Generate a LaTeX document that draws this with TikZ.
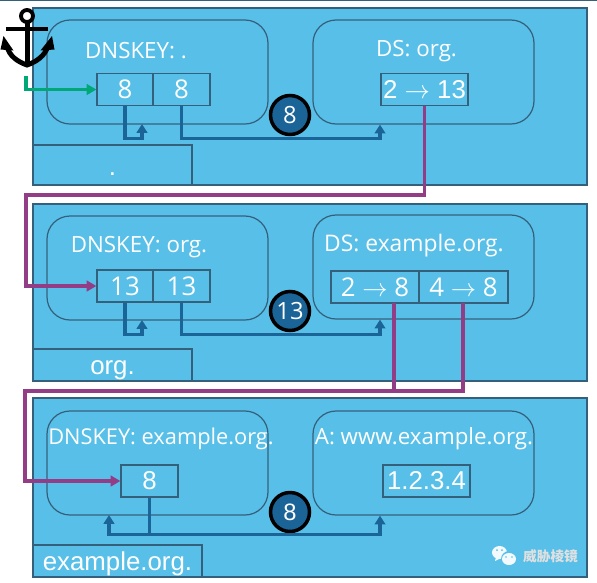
\documentclass[tikz,border=0pt]{standalone}
\usepackage{fontspec}
\setmainfont{Open Sans}
\newfontfamily\arialfont{Liberation Sans}
\newfontfamily\cjkfont{Noto Sans CJK SC}
\definecolor{bandblue}{HTML}{58C0E8}
\definecolor{edgeblue}{HTML}{35607C}
\definecolor{linkblue}{HTML}{1B6497}
\definecolor{chainpurple}{HTML}{933D87}
\definecolor{anchorgreen}{HTML}{00A878}
\usetikzlibrary{arrows.meta}
\tikzset{
    zonebox/.style={draw=edgeblue, fill=bandblue, line width=0.7pt, inner sep=0pt},
    rrset/.style={zonebox, rounded corners=0.46cm, minimum width=4.42cm, minimum height=2.08cm},
    keycell/.style={zonebox, minimum height=0.64cm, text=white, font=\fontsize{14.7}{16}\selectfont},
    title/.style={text=white, inner sep=0pt, font=\fontsize{12.7}{14}\selectfont},
    zonename/.style={text=white, inner sep=0pt, anchor=base, font=\arialfont\fontsize{14.7}{16}\selectfont},
    algo/.style={circle, draw=black, fill=linkblue, line width=2pt, minimum size=0.78cm, inner sep=0pt, text=white, font=\fontsize{13.5}{15}\selectfont},
    signlink/.style={-{Triangle[length=5pt,width=6pt]}, line width=2pt, draw=linkblue},
    dslink/.style={-{Triangle[length=5.5pt,width=6pt]}, line width=1.9pt, draw=chainpurple},
}
\begin{document}
\begin{tikzpicture}[x=0.02cm, y=-0.02cm, >=stealth]
    \useasboundingbox (0,0) rectangle (597,582);
    \fill[white] (0,0) rectangle (597,582);
    \draw[edgeblue, line width=0.8pt] (0,0) -- (597,0);

    % root zone
    \node[zonebox, minimum width=11.08cm, minimum height=3.54cm] (bandroot) at (310,96.5) {};
    \node[rrset] (rootkey) at (157.5,72) {};
    \node[rrset] (rootds) at (423.5,72) {};
    \node[title] (rootkeytitle) at (136,51) {DNSKEY: .};
    \node[title] (rootdstitle) at (416.5,51) {DS: org.};
    \node[keycell, minimum width=1.12cm] (rootksk) at (125,89.5) {8};
    \node[keycell, minimum width=1.14cm] (rootzsk) at (181.5,89.5) {8};
    \node[keycell, minimum width=1.74cm, font=\arialfont\fontsize{14.7}{16}\selectfont] (rootdigest) at (424.5,89.5) {2 $\rightarrow$ 13};
    \node[zonebox, minimum width=3.18cm, minimum height=0.8cm] (rootname) at (112.5,165) {};
    \node[zonename] (rootnametext) at (112.5,175) {.};
    \node[algo] (rootalgo) at (290,115) {8};

    % org zone
    \node[zonebox, minimum width=11.08cm, minimum height=3.54cm] (bandorg) at (310,292.5) {};
    \node[rrset] (orgkey) at (157.5,268) {};
    \node[rrset] (orgds) at (423.5,267) {};
    \node[title] (orgkeytitle) at (139,247) {DNSKEY: org.};
    \node[title, font=\fontsize{13}{14}\selectfont] (orgdstitle) at (414,246) {DS: example.org.};
    \node[keycell, minimum width=1.12cm] (orgksk) at (125,286) {13};
    \node[keycell, minimum width=1.14cm] (orgzsk) at (181.5,286) {13};
    \node[keycell, minimum width=1.76cm] (orgdigesta) at (375,287) {2 $\rightarrow$ 8};
    \node[keycell, minimum width=1.78cm] (orgdigestb) at (463.5,287) {4 $\rightarrow$ 8};
    \node[zonebox, minimum width=3.18cm, minimum height=0.64cm] (orgname) at (112.5,365) {};
    \node[zonename] (orgnametext) at (112.5,374) {org.};
    \node[algo] (orgalgo) at (290,311) {13};

    % example.org zone
    \node[zonebox, minimum width=11.08cm, minimum height=3.58cm] (bandexample) at (310,487.5) {};
    \node[rrset] (examplekey) at (157.5,463) {};
    \node[rrset] (examplea) at (423.5,463) {};
    \node[title, font=\fontsize{12.4}{14}\selectfont] (examplekeytitle) at (161,439) {DNSKEY: example.org.};
    \node[title] (exampleatitle) at (424,439) {A: www.example.org.};
    \node[keycell, minimum width=1.14cm, font=\arialfont\fontsize{14.7}{16}\selectfont] (examplecsk) at (149.5,481) {8};
    \node[keycell, minimum width=1.74cm, font=\arialfont\fontsize{14.7}{16}\selectfont] (examplerecord) at (426.5,481) {1.2.3.4};
    \node[zonebox, minimum width=3.38cm, minimum height=0.64cm] (examplename) at (117.5,561) {};
    \node[zonename] (examplenametext) at (117.5,570) {example.org.};
    \node[algo, font=\arialfont\fontsize{13.5}{15}\selectfont] (examplealgo) at (290,512) {8};

    % signatures
    \coordinate (roottip) at (142,124);
    \draw[signlink] (rootksk.south) -- ++(0,32.5) -| (roottip);
    \draw[signlink] (rootzsk.south) -- ++(0,32.5) -| (rootds.south -| 380,0);
    \coordinate (orgtip) at (142,320);
    \draw[signlink] (orgksk.south) -- ++(0,32) -| (orgtip);
    \draw[signlink] (orgzsk.south) -- ++(0,32) -| (orgds.south -| 380,0);
    \coordinate (exampletip) at (109,515);
    \draw[signlink] (examplecsk.south) -- ++(0,37) -| (exampletip);
    \draw[signlink] (examplecsk.south) -- ++(0,37) -| (examplea.south -| 380,0);

    % chain of trust
    \draw[dslink] (rootdigest.south) -- (424.5,195) -- (26,195) |- (orgksk.west);
    \coordinate (orgfoota) at (394,303);
    \coordinate (orgfootb) at (463,303);
    \draw[dslink, -] (orgfootb) -- (463,391) -- (394,391);
    \draw[dslink] (orgfoota) -- (394,391) -- (25,391) |- (examplecsk.west);

    % trust anchor
    \coordinate (anchorfoot) at (26,76);
    \draw[-{Triangle[length=5.5pt,width=6pt]}, line width=1.9pt, draw=anchorgreen] (anchorfoot) |- (rootksk.west);
    \draw[black, line width=2.2pt] (27,16) circle (6);
    \draw[black, line width=2.2pt] (6,29) -- (48,29);
    \fill[black] (24.5,22) rectangle (29.5,66);
    \draw[black, line width=2.8pt] (7,46) .. controls (9,56) and (18,62) .. (27,65) .. controls (36,62) and (45,56) .. (48,46);
    \fill[black] (0.5,49.5) -- (3.5,36) -- (13.5,50.5) -- cycle;
    \fill[black] (40.5,50.5) -- (52,36) -- (54.5,49.5) -- cycle;

    % watermark
    \fill[white!92!bandblue] (499.5,552.5) ellipse (7.5 and 6.5);
    \fill[white!92!bandblue] (496,557) -- (501,558) -- (495,561) -- cycle;
    \fill[bandblue] (509,559) circle (8);
    \fill[white!92!bandblue] (509,559) ellipse (7 and 6);
    \fill[bandblue] (497,550) circle (1) (502,550) circle (1) (506,557) circle (0.8) (512,557) circle (0.8);
    \node[text=white!88!black, inner sep=0pt, font=\cjkfont\bfseries\fontsize{7.8}{9}\selectfont] (watermark) at (550.5,556) {威胁棱镜};
\end{tikzpicture}
\end{document}
